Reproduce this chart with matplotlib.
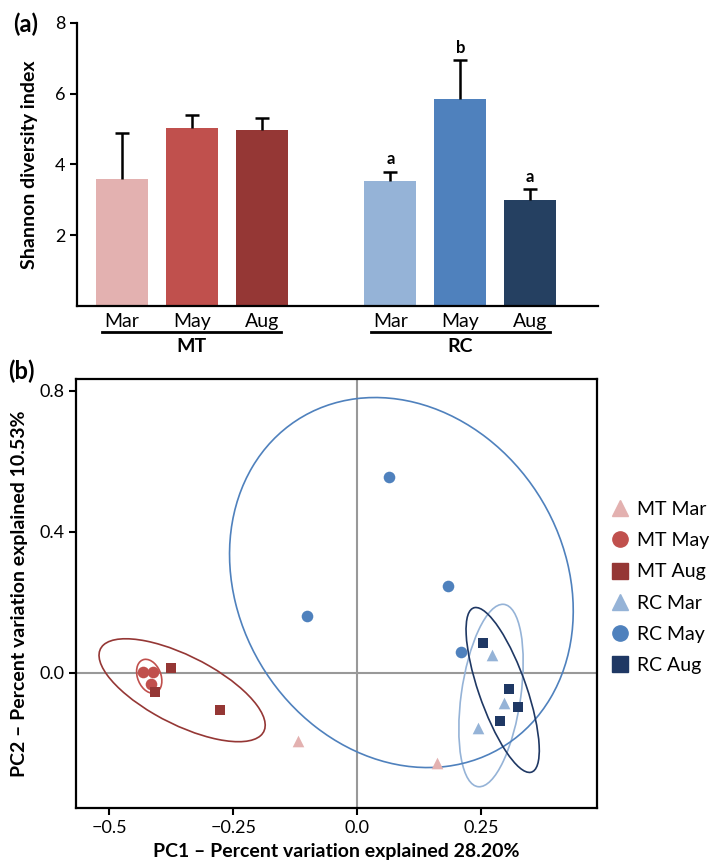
import numpy as np
import matplotlib
matplotlib.use('Agg')
import matplotlib.pyplot as plt
from matplotlib.patches import Ellipse
from matplotlib.lines import Line2D

plt.rcParams['font.family'] = ['Lato', 'DejaVu Sans']

# ---- panel (a): Shannon diversity, mean + sd
months = ['Mar', 'May', 'Aug']
sites = ['MT', 'RC']
mt_mean = [3.60, 5.04, 4.98]
mt_sd = [1.30, 0.36, 0.32]
rc_mean = [3.52, 5.86, 3.00]
rc_sd = [0.28, 1.10, 0.31]
rc_letters = ['a', 'b', 'a']
mt_colors = ['#e3b1b0', '#c0504d', '#953735']
rc_colors = ['#95b3d7', '#4f81bd', '#254061']

# ---- panel (b): PCA scores per group
groups = ['MT Mar', 'MT May', 'MT Aug', 'RC Mar', 'RC May', 'RC Aug']
group_colors = mt_colors + ['#95b3d7', '#4f81bd', '#1f3864']
group_markers = ['^', 'o', 's', '^', 'o', 's']
pc1 = [[-0.120, 0.162],
       [-0.431, -0.411, -0.416],
       [-0.376, -0.407, -0.276],
       [0.271, 0.296, 0.243],
       [-0.101, 0.065, 0.183, 0.210],
       [0.254, 0.306, 0.325, 0.289]]
pc2 = [[-0.192, -0.254],
       [0.002, 0.002, -0.032],
       [0.013, -0.054, -0.106],
       [0.051, -0.086, -0.157],
       [0.162, 0.557, 0.247, 0.060],
       [0.084, -0.045, -0.097, -0.135]]


def conf_ellipse(x, y, color, ax):
    # 95% normal ellipse, only drawn if there are enough points
    if len(x) < 3:
        return
    cov = np.cov(x, y)
    vals, vecs = np.linalg.eigh(cov)
    order = vals.argsort()[::-1]
    vals, vecs = vals[order], vecs[:, order]
    ang = np.degrees(np.arctan2(vecs[1, 0], vecs[0, 0]))
    k = np.sqrt(5.991)
    e = Ellipse((np.mean(x), np.mean(y)), 2 * k * np.sqrt(vals[0]), 2 * k * np.sqrt(vals[1]),
                angle=ang, fill=False, edgecolor=color, lw=1.2, zorder=2)
    ax.add_patch(e)


fig = plt.figure(figsize=(7.09, 8.66), dpi=100)

# ================= (a)
ax1 = fig.add_axes([0.1086, 0.6467, 0.735, 0.3268])
mt_x = np.arange(3)
rc_x = np.arange(3) + 3.84
bw = 0.74
for xs, means, sds, cols in [(mt_x, mt_mean, mt_sd, mt_colors), (rc_x, rc_mean, rc_sd, rc_colors)]:
    tops = np.array(means) + np.array(sds)
    ax1.bar(xs, means, width=bw, color=cols, zorder=2)
    # upper error bar only, cap on top
    ax1.vlines(xs, means, tops, color='black', lw=1.8, zorder=3)
    ax1.plot(xs, tops, linestyle='none', marker='_', markersize=10, mew=1.8,
             color='black', zorder=3)

for xi, m, s, let in zip(rc_x, rc_mean, rc_sd, rc_letters):
    ax1.annotate(let, (xi, m + s), xytext=(0, 3), textcoords='offset points',
                 ha='center', va='bottom', fontsize=12, fontweight='bold')

ax1.set_xlim(-0.64, 6.81)
ax1.set_ylim(0, 8)
ax1.set_yticks([2, 4, 6, 8])
ax1.tick_params(axis='y', labelsize=13, length=5, width=1.5, direction='out')
ax1.set_xticks(np.concatenate([mt_x, rc_x]))
ax1.set_xticklabels(months + months, fontsize=14)
ax1.tick_params(axis='x', length=0, pad=5)
ax1.spines['top'].set_visible(False)
ax1.spines['right'].set_visible(False)
ax1.spines['left'].set_linewidth(1.6)
ax1.spines['bottom'].set_linewidth(1.6)
ax1.set_ylabel('Shannon diversity index', fontsize=14, fontweight='bold', labelpad=12)

for xs, name in [(mt_x, sites[0]), (rc_x, sites[1])]:
    ax1.plot([xs[0] - 0.28, xs[-1] + 0.28], [-0.092, -0.092], color='black', lw=2,
             transform=ax1.get_xaxis_transform(), clip_on=False)
    ax1.text(xs[1], -0.145, name, transform=ax1.get_xaxis_transform(), ha='center',
             va='center', fontsize=14, fontweight='bold')

fig.text(0.018, 0.985, '(a)', fontsize=17, fontweight='bold', va='top')

# ================= (b)
ax2 = fig.add_axes([0.1072, 0.067, 0.735, 0.4954])
ax2.axhline(0, color='#999999', lw=1.5, zorder=1)
ax2.axvline(0, color='#999999', lw=1.5, zorder=1)

handles = []
for g, c, mk, xs, ys in zip(groups, group_colors, group_markers, pc1, pc2):
    conf_ellipse(np.array(xs), np.array(ys), c, ax2)
    ax2.scatter(xs, ys, marker=mk, s=70 if mk != 's' else 60, color=c, zorder=3, linewidths=0)
    handles.append(Line2D([], [], marker=mk, color=c, linestyle='none', markersize=11))

ax2.set_xlim(-0.567, 0.484)
ax2.set_ylim(-0.383, 0.834)
ax2.set_xticks([-0.5, -0.25, 0.0, 0.25])
ax2.set_xticklabels(['\u22120.5', '\u22120.25', '0.0', '0.25'])
ax2.set_yticks([0.0, 0.4, 0.8])
ax2.set_yticklabels(['0.0', '0.4', '0.8'])
ax2.tick_params(labelsize=13, length=5, width=1.5, direction='out')
for sp in ax2.spines.values():
    sp.set_linewidth(1.6)
ax2.set_xlabel('PC1 \u2013 Percent variation explained 28.20%', fontsize=14,
               fontweight='bold', labelpad=5)
ax2.set_ylabel('PC2 \u2013 Percent variation explained 10.53%', fontsize=14,
               fontweight='bold', labelpad=8)

ax2.legend(handles, groups, loc='center left', bbox_to_anchor=(1.025, 0.514), frameon=False,
           fontsize=14, handletextpad=0.4, labelspacing=0.73, handlelength=1.0,
           borderpad=0, borderaxespad=0)

fig.text(0.012, 0.585, '(b)', fontsize=17, fontweight='bold', va='top')

fig.savefig('out.png', dpi=100)
